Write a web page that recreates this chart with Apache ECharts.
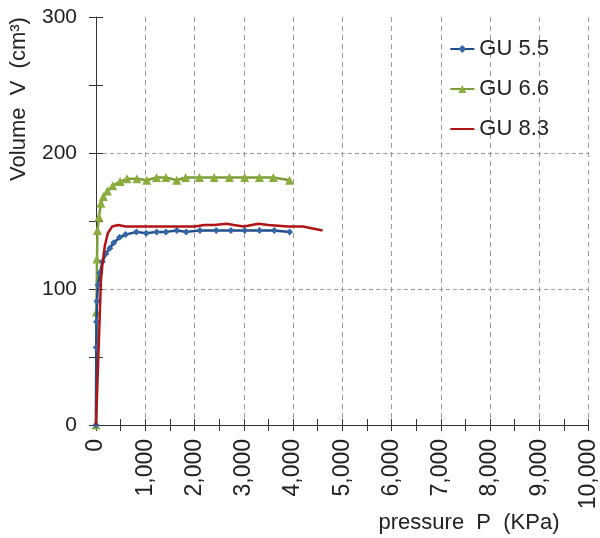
<!DOCTYPE html>
<html>
<head>
<meta charset="utf-8">
<script src="https://cdn.jsdelivr.net/npm/echarts@6/dist/echarts.min.js"></script>
<style>
  html, body { margin: 0; padding: 0; background: #fff; }
  #chart { width: 600px; height: 538px; }
</style>
</head>
<body>
<div id="chart"></div>
<script>
// pressure (KPa) / volume (cm3)
const gu55P = [0, 5, 10, 20, 40, 80, 130, 200, 280, 360, 480, 600, 820, 1020, 1230, 1420, 1640, 1830, 2110, 2440, 2740, 3020, 3320, 3620, 3930]
const gu55V = [0, 57, 76, 91, 103, 112, 120, 126, 130, 134, 138, 140, 142, 141, 142, 142, 143, 142, 143, 143, 143, 143, 143, 143, 142]

const gu66P = [0, 10, 20, 30, 60, 100, 150, 230, 340, 490, 630, 830, 1030, 1230, 1420, 1640, 1820, 2100, 2400, 2710, 3020, 3320, 3600, 3930]
const gu66V = [0, 83, 122, 143, 153, 163, 168, 172, 176, 179, 181, 181, 180, 182, 182, 180, 182, 182, 182, 182, 182, 182, 182, 180]

const gu83P = [0, 100, 130, 180, 240, 330, 450, 600, 800, 1000, 1200, 1400, 1600, 1800, 2000, 2200, 2400, 2650, 2800, 3000, 3300, 3500, 3900, 4200, 4600]
const gu83V = [0, 106, 118, 132, 141, 146, 147, 146, 146, 146, 146, 146, 146, 146, 146, 147, 147, 148, 147, 146, 148, 147, 146, 146, 143]

const xTicks = [0, 1000, 2000, 3000, 4000, 5000, 6000, 7000, 8000, 9000, 10000]
const yTicks = [0, 100, 200, 300]

const pairs = (xs, ys) => xs.map((x, i) => [x, ys[i]])

const chart = echarts.init(document.getElementById('chart'))

const labelFont = 'Liberation Sans, Arial, sans-serif'
const tickLine = { color: '#333', width: 1 }

const option = {
  animation: false,
  textStyle: { fontFamily: labelFont },
  grid: { left: 96, right: 10, top: 17, bottom: 113 },
  legend: {
    orient: 'vertical',
    right: 46,
    top: 33,
    itemWidth: 24,
    itemHeight: 10,
    itemGap: 18,
    textStyle: { fontSize: 22, color: '#222', fontFamily: labelFont },
    data: [
      'GU 5.5',
      'GU 6.6',
      { name: 'GU 8.3', itemStyle: { opacity: 0 } },
    ],
  },
  xAxis: [
    {
      type: 'value',
      position: 'bottom',
      min: xTicks[0],
      max: xTicks[xTicks.length - 1],
      interval: 1000,
      axisLine: { show: true, onZero: false, lineStyle: tickLine },
      axisTick: { show: true, length: 6, lineStyle: tickLine },
      minorTick: { show: true, splitNumber: 2, length: 6, lineStyle: tickLine },
      axisLabel: {
        rotate: 90,
        margin: 14,
        fontSize: 23,
        color: '#222',
        formatter: (v) => v.toLocaleString('en-US'),
      },
      splitLine: {
        show: true,
        lineStyle: { color: '#9a9a9a', type: [5, 4], width: 1 },
      },
    },
    {
      type: 'value',
      position: 'bottom',
      min: xTicks[0],
      max: xTicks[xTicks.length - 1],
      interval: 1000,
      axisLine: { show: false, onZero: false },
      axisTick: { show: true, inside: true, length: 6, lineStyle: tickLine },
      minorTick: { show: true, splitNumber: 2, length: 6, lineStyle: tickLine },
      axisLabel: { show: false },
      splitLine: { show: false },
    },
  ],
  yAxis: [
    {
      type: 'value',
      position: 'left',
      min: yTicks[0],
      max: yTicks[yTicks.length - 1],
      interval: 100,
      axisLine: { show: true, onZero: false, lineStyle: tickLine },
      axisTick: { show: true, length: 7, lineStyle: tickLine },
      minorTick: { show: true, splitNumber: 2, length: 7, lineStyle: tickLine },
      axisLabel: { margin: 19, fontSize: 21, color: '#222' },
      splitLine: {
        show: true,
        lineStyle: {
          color: ['transparent', '#9a9a9a', '#9a9a9a', 'transparent'],
          type: [4, 3],
          width: 1,
        },
      },
    },
    {
      type: 'value',
      position: 'left',
      min: yTicks[0],
      max: yTicks[yTicks.length - 1],
      interval: 100,
      axisLine: { show: false, onZero: false },
      axisTick: { show: true, inside: true, length: 7, lineStyle: tickLine },
      minorTick: { show: true, splitNumber: 2, length: 7, lineStyle: tickLine },
      axisLabel: { show: false },
      splitLine: { show: false },
    },
  ],
  graphic: [
    {
      type: 'text',
      x: 19,
      y: 99,
      rotation: Math.PI / 2,
      style: {
        text: 'Volume  V  (cm³)',
        fontSize: 22,
        fontFamily: labelFont,
        fill: '#222',
        textAlign: 'center',
        textVerticalAlign: 'middle',
      },
    },
    {
      type: 'text',
      x: 469,
      y: 523,
      style: {
        text: 'pressure  P  (KPa)',
        fontSize: 22,
        fontFamily: labelFont,
        fill: '#222',
        textAlign: 'center',
        textVerticalAlign: 'middle',
      },
    },
  ],
  series: [
    {
      name: 'GU 5.5',
      type: 'line',
      data: pairs(gu55P, gu55V),
      symbol: 'diamond',
      symbolSize: 7,
      itemStyle: { color: '#3566a8' },
      lineStyle: { color: '#1f4d8a', width: 2.5 },
      z: 3,
    },
    {
      name: 'GU 6.6',
      type: 'line',
      data: pairs(gu66P, gu66V),
      symbol: 'triangle',
      symbolSize: 9,
      itemStyle: { color: '#8aad3e' },
      lineStyle: { color: '#7c9e38', width: 2.5 },
      z: 2,
    },
    {
      name: 'GU 8.3',
      type: 'line',
      data: pairs(gu83P, gu83V),
      symbol: 'none',
      itemStyle: { color: '#b01515' },
      lineStyle: { color: '#b01515', width: 2.5 },
      z: 4,
    },
  ],
}

chart.setOption(option)
</script>
</body>
</html>
